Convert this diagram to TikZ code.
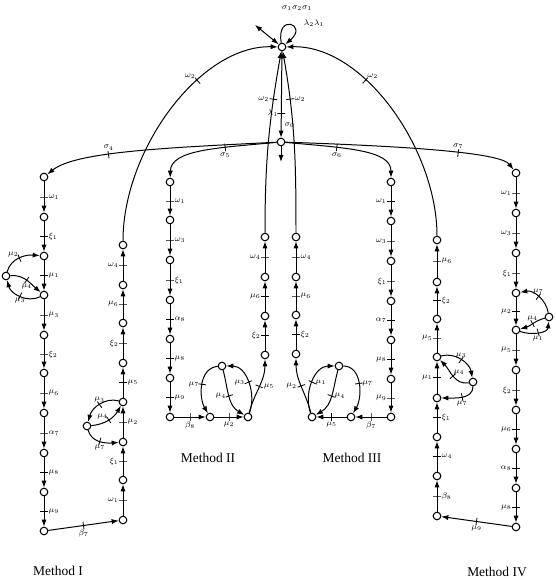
\documentclass[tikz,border=0pt]{standalone}
\usepackage{fontspec}
\setmainfont{Liberation Serif}
\usetikzlibrary{arrows.meta}

\tikzset{
  st/.style={circle,draw,fill=white,line width=0.9pt,inner sep=0pt,minimum size=6.5pt},
  ar/.style={-{Latex[length=6pt,width=4.4pt]},line width=0.85pt},
  dar/.style={{Latex[length=6pt,width=4.4pt]}-{Latex[length=6pt,width=4.4pt]},line width=0.85pt},
  tk/.style={sloped,draw,line width=0.7pt,inner sep=0pt,minimum width=0pt,minimum height=6.5pt},
  lb/.style={font=\scriptsize,inner sep=0.5pt},
  meth/.style={font=\fontsize{11.5}{13}\selectfont},
}

\begin{document}
\begin{tikzpicture}[x=0.03cm,y=0.03cm]
  \useasboundingbox (0,0) rectangle (556,-580);
  % top and centre
  \node[st] (T) at (282,-47) {};
  \node[st] (C) at (281,-142) {};
  \coordinate (tl) at (255,-25);
  \coordinate (cb) at (281,-162);
  % Method I
  \node[st] (a1) at (44,-177) {};
  \node[st] (a2) at (44,-217) {};
  \node[st] (a3) at (44,-256) {};
  \node[st] (a4) at (44,-295) {};
  \node[st] (a5) at (44,-335) {};
  \node[st] (a6) at (44,-373) {};
  \node[st] (a7) at (44,-413) {};
  \node[st] (a8) at (44,-453) {};
  \node[st] (a9) at (44,-492) {};
  \node[st] (a10) at (44,-531) {};
  \node[st] (ax) at (6,-276) {};
  \node[st] (b1) at (123,-520) {};
  \node[st] (b2) at (123,-480) {};
  \node[st] (b3) at (123,-442) {};
  \node[st] (b4) at (123,-402) {};
  \node[st] (b5) at (123,-363) {};
  \node[st] (b6) at (123,-323) {};
  \node[st] (b7) at (123,-285) {};
  \node[st] (b8) at (123,-245) {};
  \node[st] (bx) at (87,-426) {};
  % Method II
  \node[st] (c1) at (170,-182) {};
  \node[st] (c2) at (170,-220) {};
  \node[st] (c3) at (170,-260) {};
  \node[st] (c4) at (170,-300) {};
  \node[st] (c5) at (170,-339) {};
  \node[st] (c6) at (170,-378) {};
  \node[st] (c7) at (170,-417) {};
  \node[st] (d1) at (210,-417) {};
  \node[st] (d2) at (248,-417) {};
  \node[st] (dl) at (222,-366) {};
  \node[st] (e1) at (265,-355) {};
  \node[st] (e2) at (265,-316) {};
  \node[st] (e3) at (265,-277) {};
  \node[st] (e4) at (265,-237) {};
  % Method III
  \node[st] (f1) at (296,-354) {};
  \node[st] (f2) at (296,-315) {};
  \node[st] (f3) at (296,-277) {};
  \node[st] (f4) at (296,-237) {};
  \node[st] (g1) at (391,-182) {};
  \node[st] (g2) at (391,-221) {};
  \node[st] (g3) at (391,-261) {};
  \node[st] (g4) at (391,-301) {};
  \node[st] (g5) at (391,-340) {};
  \node[st] (g6) at (391,-379) {};
  \node[st] (g7) at (391,-417) {};
  \node[st] (h1) at (351,-417) {};
  \node[st] (h2) at (312,-417) {};
  \node[st] (hl) at (339,-366) {};
  % Method IV
  \node[st] (k1) at (437,-240) {};
  \node[st] (k2) at (437,-282) {};
  \node[st] (k3) at (437,-319) {};
  \node[st] (k4) at (437,-357) {};
  \node[st] (k5) at (437,-398) {};
  \node[st] (k6) at (437,-437) {};
  \node[st] (k7) at (437,-476) {};
  \node[st] (k8) at (437,-516) {};
  \node[st] (kx) at (473,-382) {};
  \node[st] (m1) at (516,-173) {};
  \node[st] (m2) at (516,-213) {};
  \node[st] (m3) at (516,-253) {};
  \node[st] (m4) at (516,-293) {};
  \node[st] (m5) at (516,-330) {};
  \node[st] (m6) at (516,-370) {};
  \node[st] (m7) at (516,-410) {};
  \node[st] (m8) at (516,-449) {};
  \node[st] (m9) at (516,-488) {};
  \node[st] (m10) at (516,-527) {};
  \node[st] (mx) at (549,-317) {};

  % top node
  \draw[ar] (T) to[out=100,in=40,distance=26pt] (T);
  \node[lb] (lsig) at (297,-8) {$\sigma_1\sigma_2\sigma_1$};
  \node[lb] (llam) at (314,-23) {$\lambda_2\lambda_1$};
  \draw[dar] (T) -- (tl);
  \draw[ar] (T) -- node[tk,pos=.72]{} node[lb,pos=.72,left=2pt]{$\lambda_1$}
    node[lb,pos=.86,right=2pt]{$\sigma_0$} (C);
  \draw[ar] (C) -- (cb);
  \draw[ar] (b8) .. controls (123,-150) and (200,-45) .. node[tk,pos=.64]{} node[lb,pos=.64,above left=1pt]{$\omega_2$} (T);
  \draw[ar] (k1) .. controls (437,-150) and (364,-45) .. node[tk,pos=.64]{} node[lb,pos=.64,above right=1pt]{$\omega_2$} (T);
  \draw[ar] (e4) to[out=90,in=-100] node[tk,pos=.75]{} node[lb,pos=.75,left=3pt]{$\omega_2$} (T);
  \draw[ar] (f4) to[out=90,in=-80] node[tk,pos=.75]{} node[lb,pos=.75,right=3pt]{$\omega_2$} (T);
  \draw[ar] (C) .. controls (160,-148) and (75,-152) .. node[tk,pos=.59]{} node[lb,pos=.59,above=3pt]{$\sigma_4$} (a1);
  \draw[ar] (C) .. controls (215,-148) and (171,-150) .. node[tk,pos=.31]{} node[lb,pos=.31,below=4pt]{$\sigma_5$} (c1);
  \draw[ar] (C) .. controls (347,-148) and (391,-150) .. node[tk,pos=.31]{} node[lb,pos=.31,below=4pt]{$\sigma_6$} (g1);
  \draw[ar] (C) .. controls (400,-146) and (500,-152) .. node[tk,pos=.59]{} node[lb,pos=.59,above=3pt]{$\sigma_7$} (m1);

  % Method I
  \draw[ar] (a1) -- node[tk]{} node[lb,right=3pt]{$\omega_1$} (a2);
  \draw[ar] (a2) -- node[tk]{} node[lb,right=3pt]{$\xi_1$} (a3);
  \draw[ar] (a3) -- node[tk]{} node[lb,right=3pt]{$\mu_1$} (a4);
  \draw[ar] (a4) -- node[tk]{} node[lb,right=3pt]{$\mu_3$} (a5);
  \draw[ar] (a5) -- node[tk]{} node[lb,right=3pt]{$\xi_2$} (a6);
  \draw[ar] (a6) -- node[tk]{} node[lb,right=3pt]{$\mu_6$} (a7);
  \draw[ar] (a7) -- node[tk]{} node[lb,right=3pt]{$\alpha_7$} (a8);
  \draw[ar] (a8) -- node[tk]{} node[lb,right=3pt]{$\mu_8$} (a9);
  \draw[ar] (a9) -- node[tk]{} node[lb,right=3pt]{$\mu_9$} (a10);
  \draw[ar] (ax) to[out=75,in=175] node[tk]{} node[lb,above left=0pt]{$\mu_2$} (a3);
  \draw[ar] (ax) to[out=5,in=140] node[tk]{} node[lb,below=2pt]{$\mu_4$} (a4);
  \draw[ar] (a4) to[out=205,in=-75] node[tk]{} node[lb,below=1pt]{$\mu_3$} (ax);
  \draw[ar] (a10) -- node[tk]{} node[lb,below=3pt]{$\beta_7$} (b1);
  \draw[ar] (b1) -- node[tk]{} node[lb,left=3pt]{$\omega_1$} (b2);
  \draw[ar] (b2) -- node[tk]{} node[lb,left=3pt]{$\xi_1$} (b3);
  \draw[ar] (b3) -- node[tk]{} node[lb,right=3pt]{$\mu_2$} (b4);
  \draw[ar] (b4) -- node[tk]{} node[lb,right=3pt]{$\mu_5$} (b5);
  \draw[ar] (b5) -- node[tk]{} node[lb,left=3pt]{$\xi_2$} (b6);
  \draw[ar] (b6) -- node[tk]{} node[lb,left=3pt]{$\mu_6$} (b7);
  \draw[ar] (b7) -- node[tk]{} node[lb,left=3pt]{$\omega_4$} (b8);
  \draw[ar] (b4) to[out=165,in=75] node[tk]{} node[lb,above=1pt]{$\mu_3$} (bx);
  \draw[ar] (bx) to[out=5,in=-120] node[tk]{} node[lb,above left=0pt]{$\mu_4$} (b4);
  \draw[ar] (bx) to[out=-75,in=185] node[tk]{} node[lb,below=2pt]{$\mu_7$} (b3);

  % Method II
  \draw[ar] (c1) -- node[tk]{} node[lb,right=3pt]{$\omega_1$} (c2);
  \draw[ar] (c2) -- node[tk]{} node[lb,right=3pt]{$\omega_3$} (c3);
  \draw[ar] (c3) -- node[tk]{} node[lb,right=3pt]{$\xi_1$} (c4);
  \draw[ar] (c4) -- node[tk]{} node[lb,right=3pt]{$\alpha_8$} (c5);
  \draw[ar] (c5) -- node[tk]{} node[lb,right=3pt]{$\mu_8$} (c6);
  \draw[ar] (c6) -- node[tk]{} node[lb,right=3pt]{$\mu_9$} (c7);
  \draw[ar] (c7) -- node[tk]{} node[lb,below=3pt]{$\beta_8$} (d1);
  \draw[ar] (d1) -- node[tk]{} node[lb,below=3pt]{$\mu_2$} (d2);
  \draw[ar] (dl) to[out=185,in=120] node[tk]{} node[lb,left=2pt]{$\mu_7$} (d1);
  \draw[ar] (dl) to[out=-75,in=150] node[tk]{} node[lb,left=2pt]{$\mu_4$} (d2);
  \draw[ar] (d2) to[out=70,in=0] node[tk]{} node[lb,left=2pt]{$\mu_3$} (dl);
  \draw[ar] (d2) to[out=75,in=-90] node[tk]{} node[lb,right=3pt]{$\mu_5$} (e1);
  \draw[ar] (e1) -- node[tk]{} node[lb,left=3pt]{$\xi_2$} (e2);
  \draw[ar] (e2) -- node[tk]{} node[lb,left=3pt]{$\mu_6$} (e3);
  \draw[ar] (e3) -- node[tk]{} node[lb,left=3pt]{$\omega_4$} (e4);

  % Method III
  \draw[ar] (g1) -- node[tk]{} node[lb,left=3pt]{$\omega_1$} (g2);
  \draw[ar] (g2) -- node[tk]{} node[lb,left=3pt]{$\omega_3$} (g3);
  \draw[ar] (g3) -- node[tk]{} node[lb,left=3pt]{$\xi_1$} (g4);
  \draw[ar] (g4) -- node[tk]{} node[lb,left=3pt]{$\alpha_7$} (g5);
  \draw[ar] (g5) -- node[tk]{} node[lb,left=3pt]{$\mu_8$} (g6);
  \draw[ar] (g6) -- node[tk]{} node[lb,left=3pt]{$\mu_9$} (g7);
  \draw[ar] (g7) -- node[tk]{} node[lb,below=3pt]{$\beta_7$} (h1);
  \draw[ar] (h1) -- node[tk]{} node[lb,below=3pt]{$\mu_5$} (h2);
  \draw[ar] (h2) to[out=110,in=180] node[tk]{} node[lb,right=2pt]{$\mu_1$} (hl);
  \draw[ar] (hl) to[out=-105,in=30] node[tk]{} node[lb,right=2pt]{$\mu_4$} (h2);
  \draw[ar] (hl) to[out=0,in=60] node[tk]{} node[lb,right=2pt]{$\mu_7$} (h1);
  \draw[ar] (h2) to[out=105,in=-90] node[tk]{} node[lb,left=3pt]{$\mu_2$} (f1);
  \draw[ar] (f1) -- node[tk]{} node[lb,right=3pt]{$\xi_2$} (f2);
  \draw[ar] (f2) -- node[tk]{} node[lb,right=3pt]{$\mu_6$} (f3);
  \draw[ar] (f3) -- node[tk]{} node[lb,right=3pt]{$\omega_4$} (f4);

  % Method IV
  \draw[ar] (m1) -- node[tk]{} node[lb,left=3pt]{$\omega_1$} (m2);
  \draw[ar] (m2) -- node[tk]{} node[lb,left=3pt]{$\omega_3$} (m3);
  \draw[ar] (m3) -- node[tk]{} node[lb,left=3pt]{$\xi_1$} (m4);
  \draw[ar] (m4) -- node[tk]{} node[lb,left=3pt]{$\mu_2$} (m5);
  \draw[ar] (m5) -- node[tk]{} node[lb,left=3pt]{$\mu_5$} (m6);
  \draw[ar] (m6) -- node[tk]{} node[lb,left=3pt]{$\xi_2$} (m7);
  \draw[ar] (m7) -- node[tk]{} node[lb,left=3pt]{$\mu_6$} (m8);
  \draw[ar] (m8) -- node[tk]{} node[lb,left=3pt]{$\alpha_8$} (m9);
  \draw[ar] (m9) -- node[tk]{} node[lb,left=3pt]{$\mu_8$} (m10);
  \draw[ar] (mx) to[out=100,in=10] node[tk]{} node[lb,above=1pt]{$\mu_7$} (m4);
  \draw[ar] (mx) to[out=195,in=15] node[tk]{} node[lb,above=1pt]{$\mu_4$} (m5);
  \draw[ar] (m5) to[out=-20,in=-95] node[tk]{} node[lb,below=2pt]{$\mu_1$} (mx);
  \draw[ar] (m10) -- node[tk]{} node[lb,below=3pt]{$\mu_9$} (k8);
  \draw[ar] (k8) -- node[tk]{} node[lb,right=3pt]{$\beta_8$} (k7);
  \draw[ar] (k7) -- node[tk]{} node[lb,right=3pt]{$\omega_4$} (k6);
  \draw[ar] (k6) -- node[tk]{} node[lb,right=3pt]{$\xi_1$} (k5);
  \draw[ar] (k5) -- node[tk]{} node[lb,left=3pt]{$\mu_1$} (k4);
  \draw[ar] (k4) -- node[tk]{} node[lb,left=3pt]{$\mu_5$} (k3);
  \draw[ar] (k3) -- node[tk]{} node[lb,right=3pt]{$\xi_2$} (k2);
  \draw[ar] (k2) -- node[tk]{} node[lb,right=3pt]{$\mu_6$} (k1);
  \draw[ar] (k4) to[out=15,in=100] node[tk]{} node[lb,above=1pt]{$\mu_3$} (kx);
  \draw[ar] (kx) to[out=190,in=-45] node[tk]{} node[lb,above right=0pt]{$\mu_4$} (k4);
  \draw[ar] (kx) to[out=-90,in=0] node[tk]{} node[lb,below=2pt]{$\mu_7$} (k5);

  % titles
  \node[meth] (mI) at (58,-571) {Method I};
  \node[meth] (mII) at (208,-458) {Method II};
  \node[meth] (mIII) at (352,-458) {Method III};
  \node[meth] (mIV) at (497,-572) {Method IV};
\end{tikzpicture}
\end{document}
